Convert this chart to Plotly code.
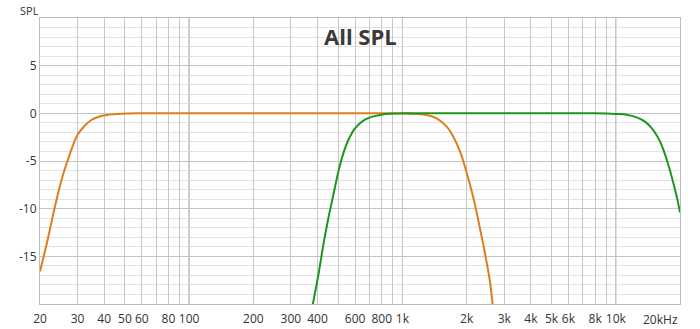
import plotly.graph_objects as go
import math

# ---- data ----
orange_freq = [20, 21.8, 23.0, 24.3, 25.6, 27.0, 28.6, 30.1, 32.4, 34.8, 37.4, 40.2, 46.4, 57.6,
               100, 300, 700, 1000, 1166, 1299, 1447, 1612, 1732, 1861, 1964, 2073, 2189, 2310,
               2438, 2574, 2660]
orange_db = [-16.6, -13.1, -10.7, -8.4, -6.5, -4.9, -3.3, -2.2, -1.3, -0.7, -0.38, -0.2, -0.07, 0.0,
             0.0, 0.0, 0.0, -0.02, -0.07, -0.17, -0.52, -1.4, -2.45, -4.0, -5.6, -7.5, -9.6, -12.1,
             -14.7, -17.7, -20.5]

green_freq = [378, 403.5, 425.8, 449.4, 474.3, 500.6, 528.4, 557.6, 599.3, 655.6, 704.7, 785.0,
              906.5, 1000, 2000, 5000, 8000, 10070, 11250, 12530, 13710, 14730, 15830, 16710,
              17630, 18610, 19430, 20000]
green_db = [-20.3, -16.96, -13.8, -11.0, -8.57, -6.12, -4.2, -2.8, -1.57, -0.77, -0.42, -0.17,
            -0.03, 0.0, 0.0, 0.0, 0.0, -0.07, -0.14, -0.42, -0.87, -1.56, -2.6, -3.8,
            -5.4, -7.3, -9.0, -10.4]

x_grid = [20, 30, 40, 50, 60, 70, 80, 90, 100, 200, 300, 400, 500, 600, 700, 800, 900, 1000,
          2000, 3000, 4000, 5000, 6000, 7000, 8000, 9000, 10000, 20000]
x_labels = ["20", "30", "40", "50", "60", "", "80", "", "100", "200", "300", "400", "", "600", "",
            "800", "", "1k", "2k", "3k", "4k", "5k", "6k", "", "8k", "", "10k", ""]
x_end_label = "20kHz"
x_major = [100, 1000, 10000]
y_ticks = [-15, -10, -5, 0, 5]
y_range = [-20, 10]
x_range = [20, 20000]

ORANGE = "#de7d1c"
GREEN = "#1c961c"
FONT = "Open Sans, sans-serif"

fig = go.Figure()
fig.add_trace(go.Scatter(x=orange_freq, y=orange_db, mode="lines",
                         line=dict(color=ORANGE, width=2, shape="spline", smoothing=0.8),
                         showlegend=False, hoverinfo="skip", cliponaxis=True))
fig.add_trace(go.Scatter(x=green_freq, y=green_db, mode="lines",
                         line=dict(color=GREEN, width=2, shape="spline", smoothing=0.8),
                         showlegend=False, hoverinfo="skip", cliponaxis=True))

for f in x_major:
    fig.add_shape(type="line", xref="x", yref="paper", x0=f, x1=f, y0=0, y1=1,
                  line=dict(color="#8a8a8a", width=1), layer="below")

fig.update_layout(
    width=700, height=329,
    margin=dict(l=40, r=20, t=18, b=25, autoexpand=False),
    paper_bgcolor="white", plot_bgcolor="white",
    font=dict(family=FONT, size=12, color="#333333"),
    xaxis=dict(type="log", range=[math.log10(x_range[0]), math.log10(x_range[1])],
               tickmode="array", tickvals=x_grid, ticktext=x_labels,
               showgrid=True, gridcolor="#c8c8c8", gridwidth=1, automargin=False,
               showline=True, linecolor="#bdbdbd", mirror=True, ticklabelstandoff=4,
               ticks="", zeroline=False, tickfont=dict(size=12)),
    yaxis=dict(range=y_range, tickmode="array", tickvals=y_ticks,
               ticktext=[str(v) for v in y_ticks], automargin=False,
               showgrid=True, gridcolor="#c4c4c4", gridwidth=1,
               minor=dict(tickmode="linear", tick0=0, dtick=1, showgrid=True,
                          gridcolor="#e2e2e2", gridwidth=1, ticks=""),
               showline=True, linecolor="#bdbdbd", mirror=True,
               ticks="", zeroline=False, tickfont=dict(size=12)),
    annotations=[
        dict(text="All SPL", xref="paper", yref="paper", x=0.5, y=0.937,
             xanchor="center", yanchor="middle", showarrow=False,
             font=dict(family=FONT, size=22, color="#3a3a3a", weight="bold")),
        dict(text="SPL", xref="paper", yref="paper", x=-0.016, y=1.0, yshift=8,
             xanchor="center", yanchor="middle", showarrow=False,
             font=dict(family=FONT, size=11, color="#333333")),
        dict(text=x_end_label, xref="x", yref="paper", x=math.log10(x_range[1]), y=0,
             yshift=-15, xanchor="right", yanchor="middle", showarrow=False,
             font=dict(family=FONT, size=12, color="#333333")),
    ],
)

fig.write_html("out.html")
